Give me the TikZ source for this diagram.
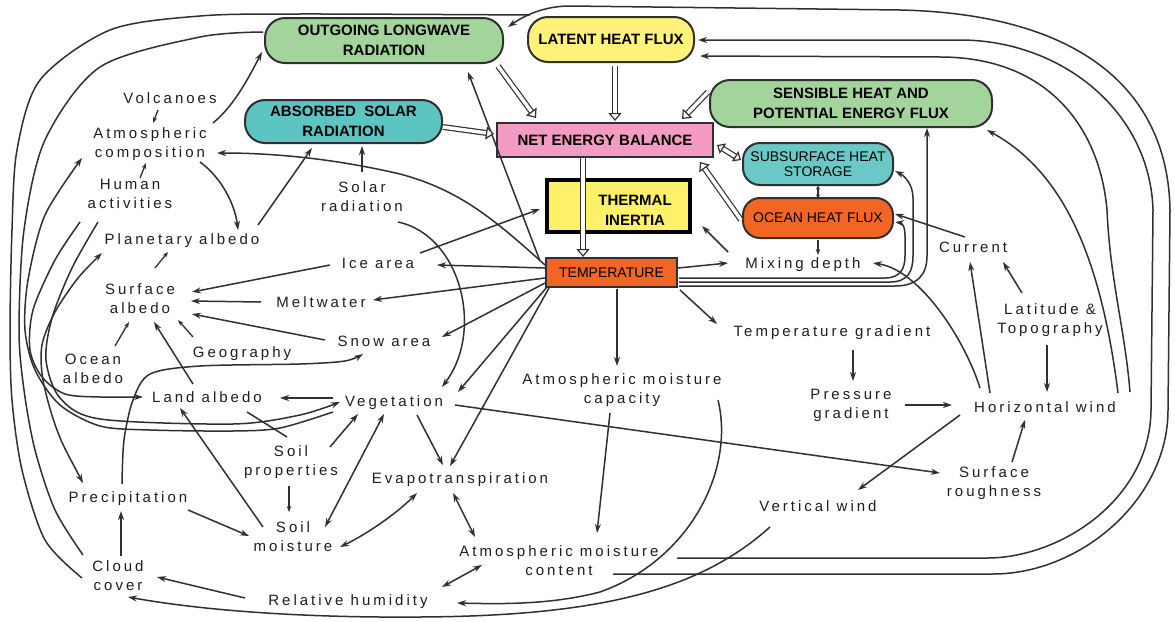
\documentclass[tikz,border=0pt]{standalone}
\usepackage{fontspec}
\setmainfont{Liberation Sans}
\newfontfamily\lblfont{Liberation Sans}[LetterSpace=20]
\usetikzlibrary{arrows.meta,calc}
\definecolor{ln}{HTML}{303030}
\definecolor{txt}{HTML}{1E1E1E}
\definecolor{cgreen}{HTML}{A3D49B}
\definecolor{cyell}{HTML}{FFF27A}
\definecolor{cteal}{HTML}{5CC4C1}
\definecolor{cteal2}{HTML}{6CC8C6}
\definecolor{cpink}{HTML}{F49BC4}
\definecolor{corange}{HTML}{F26522}
\definecolor{ctiyel}{HTML}{FFF06A}
\begin{document}
\begin{tikzpicture}[x=1pt,y=-1pt,
  lbl/.style={font=\lblfont\fontsize{15}{19}\selectfont, text=txt, inner sep=0pt, text height=11pt, text depth=3pt},
  mlbl/.style={font=\lblfont\fontsize{15}{19}\selectfont, text=txt, inner sep=0pt, align=center},
  box/.style={draw=ln, line width=2pt, rounded corners=20pt, inner sep=0pt, align=center, font=\bfseries\fontsize{15}{20}\selectfont},
  rbox/.style={draw=ln, line width=2pt, inner sep=0pt, align=center},
  arr/.style={draw=ln, line width=1.5pt, -{Stealth[length=9pt,width=6pt]}},
  arrs/.style={draw=ln, line width=1.3pt, -{Stealth[length=6pt,width=4.5pt]}},
  barr/.style={draw=ln, line width=1.5pt, {Stealth[length=9pt,width=6pt]}-{Stealth[length=9pt,width=6pt]}},
  wire/.style={draw=ln, line width=1.5pt},
  dbl/.style={draw=ln, line width=1.2pt, double=white, double distance=3.5pt, -{Triangle[length=8pt,width=13pt,fill=white,line width=1.2pt]}},
  dblb/.style={draw=ln, line width=1.2pt, double=white, double distance=3.5pt, {Triangle[length=7pt,width=12pt,fill=white,line width=1.2pt]}-{Triangle[length=7pt,width=12pt,fill=white,line width=1.2pt]}}
]
\useasboundingbox (0,0) rectangle (1175,621);
\fill[white] (0,0) rectangle (1175,621);

% ---------- boxes ----------
\node[box, fill=cgreen, minimum width=238pt, minimum height=45pt] (olr) at (384,40.5) {OUTGOING LONGWAVE\\RADIATION};
\node[box, fill=cyell, minimum width=166pt, minimum height=45pt] (lhf) at (611,39.5) {LATENT HEAT FLUX};
\node[box, fill=cgreen, minimum width=282pt, minimum height=47pt] (shf) at (851,103.5) {SENSIBLE HEAT AND\\POTENTIAL ENERGY FLUX};
\node[box, fill=cteal, minimum width=197pt, minimum height=43pt] (asr) at (343.5,121.5) {ABSORBED\ \ SOLAR\\RADIATION};
\node[rbox, fill=cpink, font=\bfseries\fontsize{15}{20}\selectfont, minimum width=216pt, minimum height=34pt] (neb) at (605,140) {NET ENERGY BALANCE};
\node[box, fill=cteal2, font=\fontsize{14}{15}\selectfont, rounded corners=17pt, minimum width=150pt, minimum height=42pt] (shs) at (818,164) {SUBSURFACE HEAT\\STORAGE};
\node[box, fill=corange, font=\fontsize{14}{15}\selectfont, rounded corners=17pt, minimum width=150pt, minimum height=40pt] (ohf) at (818,218) {OCEAN HEAT FLUX};
\node[rbox, draw=black, line width=3.5pt, fill=ctiyel, minimum width=143pt, minimum height=52pt] (ti) at (618.5,206) {};
\node[font=\bfseries\fontsize{15}{20}\selectfont, align=center, inner sep=0pt] (tit) at (635,210) {THERMAL\\INERTIA};
\node[rbox, fill=corange, font=\fontsize{14}{16}\selectfont, minimum width=131pt, minimum height=29pt] (temp) at (611.5,272.5) {TEMPERATURE};

% ---------- labels ----------
\node[lbl] (volc) at (170,99) {Volcanoes};
\node[mlbl] (atmc) at (150,144.5) {Atmospheric\\composition};
\node[mlbl] (hum) at (130,194) {Human\\activities};
\node[mlbl] (solar) at (362,197) {Solar\\radiation};
\node[lbl] (plan) at (182,240) {Planetary albedo};
\node[lbl] (ice) at (378,264) {Ice area};
\node[mlbl] (surf) at (140,299) {Surface\\albedo};
\node[lbl] (melt) at (321,303) {Meltwater};
\node[lbl] (snow) at (384,342) {Snow area};
\node[lbl] (geo) at (242,353) {Geography};
\node[mlbl] (ocean) at (93,369) {Ocean\\albedo};
\node[lbl] (land) at (207,398) {Land albedo};
\node[lbl] (veg) at (394,402) {Vegetation};
\node[mlbl] (soilp) at (291,462.5) {Soil\\properties};
\node[mlbl] (soilm) at (293,537) {Soil\\moisture};
\node[lbl] (prec) at (128,498) {Precipitation};
\node[lbl] (evap) at (460,479) {Evapotranspiration};
\node[mlbl] (amcap) at (622,390.5) {Atmospheric moisture\\capacity};
\node[mlbl] (amcont) at (559,561) {Atmospheric moisture\\content};
\node[mlbl] (cloud) at (118,576) {Cloud\\cover};
\node[lbl] (rh) at (348,601) {Relative humidity};
\node[lbl] (mix) at (803,264) {Mixing depth};
\node[lbl] (curr) at (973,248) {Current};
\node[lbl] (tgrad) at (832,332) {Temperature gradient};
\node[mlbl] (lat) at (1050,320.5) {Latitude \&\\Topography};
\node[mlbl] (pres) at (851,405.5) {Pressure\\gradient};
\node[lbl] (hwind) at (1045,408) {Horizontal wind};
\node[mlbl] (rough) at (994,483.5) {Surface\\roughness};
\node[lbl] (vwind) at (818,507) {Vertical wind};

% ---------- named free points ----------
\coordinate (e0) at ($(cloud)+(-36,2)$);
\coordinate (ejoin) at ($(olr)+(146,-25.5)$);
\coordinate (l2a) at ($(cloud)+(-35,-21)$);
\coordinate (l2b) at ($(olr)+(-121,-8.5)$);
\coordinate (l3a) at ($(veg)+(-61,10)$);
\coordinate (l3b) at ($(atmc)+(-68,13.5)$);
\coordinate (h1a) at ($(hum)+(-50,28)$);
\coordinate (h1b) at ($(land)+(-64,-1)$);
\coordinate (h2a) at ($(hum)+(-32,28)$);
\coordinate (h2b) at ($(veg)+(-54,0)$);
\coordinate (l4a) at ($(prec)+(-45,-15)$);
\coordinate (l4b) at ($(plan)+(-80,13)$);
\coordinate (psa) at ($(prec)+(-6,-14)$);
\coordinate (psb) at ($(snow)+(-21,12)$);

% ---------- left region ----------
\draw[arrs] ($(volc)+(-12,11)$) -- ($(atmc)+(3,-21.5)$);
\draw[arrs] ($(hum)+(10,-16)$) -- ($(atmc)+(-4,18.5)$);
\draw[arr] ($(atmc)+(63,-21.5)$) .. controls (235,105) and (250,75) .. ($(olr)+(-122,11.5)$);
\draw[arr] ($(atmc)+(50,17.5)$) .. controls (222,178) and (235,205) .. ($(plan)+(56,-10)$);
\draw[arr] ($(temp)+(-66.5,-7.5)$) .. controls (495,220) and (460,190) .. (400,174) .. controls (340,160) and (280,153) .. ($(atmc)+(67,8.5)$);
\draw[arr] ($(temp)+(-71.5,-11.5)$) -- ($(olr)+(84,31.5)$);
\draw[arr] ($(solar)+(0,-25)$) -- ($(asr)+(18.5,24.5)$);
\draw[arr] ($(plan)+(76,-15)$) -- ($(asr)+(-31.5,26.5)$);
\draw[arrs] ($(surf)+(15,-31)$) -- ($(plan)+(-14,12)$);
\draw[arr] ($(ice)+(-48,1)$) -- ($(surf)+(52,-7)$);
\draw[arr] ($(melt)+(-60,-1)$) -- ($(surf)+(51,2)$);
\draw[arr] ($(snow)+(-59,-2)$) -- ($(surf)+(52,15)$);
\draw[arrs] ($(ocean)+(22,-23)$) -- ($(surf)+(-11,23)$);
\draw[arrs] ($(geo)+(-49,-16)$) -- ($(surf)+(38,21)$);
\draw[arr] ($(land)+(-14,-14)$) -- ($(surf)+(14,23)$);
\draw[arr] ($(veg)+(-61,-4)$) -- ($(land)+(73,0)$);
\draw[wire] ($(soilp)+(-4,-25.5)$) -- ($(land)+(40,14)$);
\draw[arr] ($(soilp)+(39,-15.5)$) -- ($(veg)+(-36,12)$);
\draw[arrs] ($(soilp)+(-2,23.5)$) -- ($(soilm)+(-4,-25)$);
\draw[barr] ($(soilm)+(32,-10)$) -- ($(veg)+(-10,12)$);
\draw[barr] ($(soilm)+(47,10)$) .. controls (365,535) and (395,515) .. ($(evap)+(-43,14)$);
\draw[arr] ($(prec)+(60,12)$) -- ($(soilm)+(-44,-1)$);
\draw[arr] ($(cloud)+(3,-20)$) -- ($(prec)+(-7,13)$);
\draw[arr] ($(rh)+(-103,-3)$) -- ($(cloud)+(39,1)$);
\draw[barr] ($(rh)+(94,-14)$) -- ($(amcont)+(-77,4)$);
\draw[barr] ($(evap)+(-7,14)$) -- ($(amcont)+(-84,-24)$);
\draw[arr] ($(amcap)+(-12,22.5)$) -- ($(amcont)+(38,-28)$);
\draw[arr] ($(amcap)+(96,9.5)$) .. controls (735,470) and (690,560) .. (600,592) .. controls (550,605) and (500,604) .. ($(rh)+(109,2)$);
\draw[arr] ($(vwind)+(-48,20)$) .. controls (700,590) and (600,616) .. (420,617) .. controls (300,618) and (200,610) .. ($(cloud)+(10,21)$);
\draw[arr] ($(veg)+(23,13)$) -- ($(evap)+(-17,-14)$);
\draw[arr] ($(temp)+(-62.5,15.5)$) -- ($(evap)+(-10,-13)$);
\draw[arr] ($(temp)+(-64.5,14.5)$) -- ($(veg)+(64,-10)$);
\draw[arr] ($(solar)+(36,25)$) .. controls (460,235) and (485,330) .. ($(veg)+(48,-15)$);
\draw[arr] ($(temp)+(-66.5,-4.5)$) -- ($(ice)+(59,1)$);
\draw[arr] ($(ice)+(42,-11)$) -- ($(ti)+(-78.5,3)$);
\draw[arr] ($(temp)+(-66.5,5.5)$) -- ($(melt)+(52,-3)$);
\draw[arr] ($(temp)+(-66.5,10.5)$) -- ($(snow)+(58,-5)$);
\draw[arr] ($(soilm)+(-30,-10)$) -- ($(land)+(-27,10)$);

% left bundle
\draw[wire] plot[smooth] coordinates {(e0) (45,540) (22,470) (12,400) (10,330) (12,230) (17,150) (40,80) (110,30) (200,16) (300,14) (ejoin)};
\draw[wire] plot[smooth] coordinates {(l2a) (55,510) (35,450) (24,390) (19,330) (24,230) (45,140) (100,67) (200,37) (l2b)};
\draw[arr] plot[smooth] coordinates {(l3a) (280,428) (233,431) (150,430) (100,426) (60,405) (35,370) (25,330) (28,280) (45,215) (l3b)};
\draw[arr] plot[smooth] coordinates {(h1a) (55,260) (33,310) (30,350) (42,377) (65,394) (100,397) (h1b)};
\draw[arr] plot[smooth] coordinates {(h2a) (72,268) (52,318) (46,360) (60,398) (100,419) (233,424) (300,415) (h2b)};
\draw[barr] plot[smooth] coordinates {(l4a) (57,430) (43,380) (42,345) (55,312) (78,278) (l4b)};
\draw[arr] plot[smooth] coordinates {(psa) (124,440) (133,400) (150,374) (200,366) (300,364) (345,361) (psb)};

% ---------- right region ----------
\draw[arr] ($(temp)+(66.5,-4.5)$) -- ($(mix)+(-75,-1)$);
\draw[arr] ($(mix)+(-75,-12)$) -- ($(ti)+(83.5,20)$);
\draw[arr] ($(temp)+(68.5,17.5)$) -- ($(tgrad)+(-115,-8)$);
\draw[arr] ($(temp)+(5.5,16.5)$) -- ($(amcap)+(-5,-24.5)$);
\draw[arrs] ($(ohf)+(0,22)$) -- ($(mix)+(15,-9)$);
\draw[draw=ln, line width=1.3pt, {Stealth[length=4pt,width=4pt]}-{Stealth[length=4pt,width=4pt]}] ($(shs)+(0,21.5)$) -- ($(ohf)+(0,-19.5)$);
\draw[arr] ($(curr)+(-8,-11)$) -- ($(ohf)+(77,-4)$);
\draw[arr] ($(hwind)+(-55,-15)$) -- ($(curr)+(-3,14)$);
\draw[arr] ($(lat)+(-28,-27.5)$) -- ($(curr)+(30,14)$);
\draw[arr] ($(lat)+(-3,24.5)$) -- ($(hwind)+(2,-16)$);
\draw[arr] ($(tgrad)+(21,18)$) -- ($(pres)+(2,-24.5)$);
\draw[arr] ($(pres)+(54,-0.5)$) -- ($(hwind)+(-93,-3)$);
\draw[arr] ($(hwind)+(-85,7)$) -- ($(vwind)+(40,-17)$);
\draw[arr] ($(rough)+(18,-21.5)$) -- ($(hwind)+(-20,12)$);
\draw[arr] ($(veg)+(61,3)$) -- ($(rough)+(-54,-10.5)$);
\draw[arr] ($(hwind)+(-65,-20)$) .. controls (965,340) and (920,270) .. ($(mix)+(70,-1)$);
\draw[arr] ($(hwind)+(73,-15)$) .. controls (1100,250) and (1060,170) .. ($(shf)+(136,26.5)$);
\draw[arr] ($(hwind)+(85,-16)$) .. controls (1125,330) and (1110,280) .. (1107,210) .. controls (1100,130) and (1050,57) .. (940,57) -- ($(lhf)+(89,16.5)$);
\draw[arr] ($(amcont)+(118,-3)$) -- (987,558) .. controls (1060,558) and (1150,500) .. (1151,410) -- (1153,210) .. controls (1150,110) and (1060,40) .. (960,40) -- ($(lhf)+(87,0.5)$);
\draw[arr] ($(amcont)+(54,13)$) -- (993,574) .. controls (1080,574) and (1168,500) .. (1168,410) -- (1170,210) .. controls (1168,90) and (1080,14) .. (900,10) -- (570,6) .. controls (545,6) and (525,15) .. ($(olr)+(124,-13.5)$);

% temperature bundle to the right
\draw[arr] ($(temp)+(67.5,5.5)$) -- (885,278) .. controls (900,278) and (905,269) .. (905,256) -- (905,236) .. controls (905,226) and (902,223) .. ($(ohf)+(77,4)$);
\draw[arr] ($(temp)+(67.5,9.5)$) -- (890,282) .. controls (908,282) and (913,271) .. (913,256) -- (913,198) .. controls (913,185) and (905,176) .. ($(shs)+(77,7)$);
\draw[arr] ($(temp)+(67.5,13.5)$) -- (895,286) .. controls (917,286) and (927,275) .. (927,256) -- ($(shf)+(76,24.5)$);

% ---------- double (energy) arrows ----------
\draw[dbl] ($(olr)+(114,25.5)$) -- ($(neb)+(-69,-22)$);
\draw[dbl] ($(lhf)+(4,26.5)$) -- ($(neb)+(10,-19)$);
\draw[dbl] ($(asr)+(99.5,5.5)$) -- ($(neb)+(-111,-6)$);
\draw[dbl] ($(shf)+(-143,-11.5)$) -- ($(neb)+(77,-21)$);
\draw[dblb] ($(neb)+(112,5)$) -- ($(shs)+(-77,-4)$);
\draw[dbl] ($(ohf)+(-77,2)$) -- ($(neb)+(95,22)$);
\draw[dbl] ($(neb)+(-22,18)$) -- ($(temp)+(-28.5,-15.5)$);
\end{tikzpicture}
\end{document}
